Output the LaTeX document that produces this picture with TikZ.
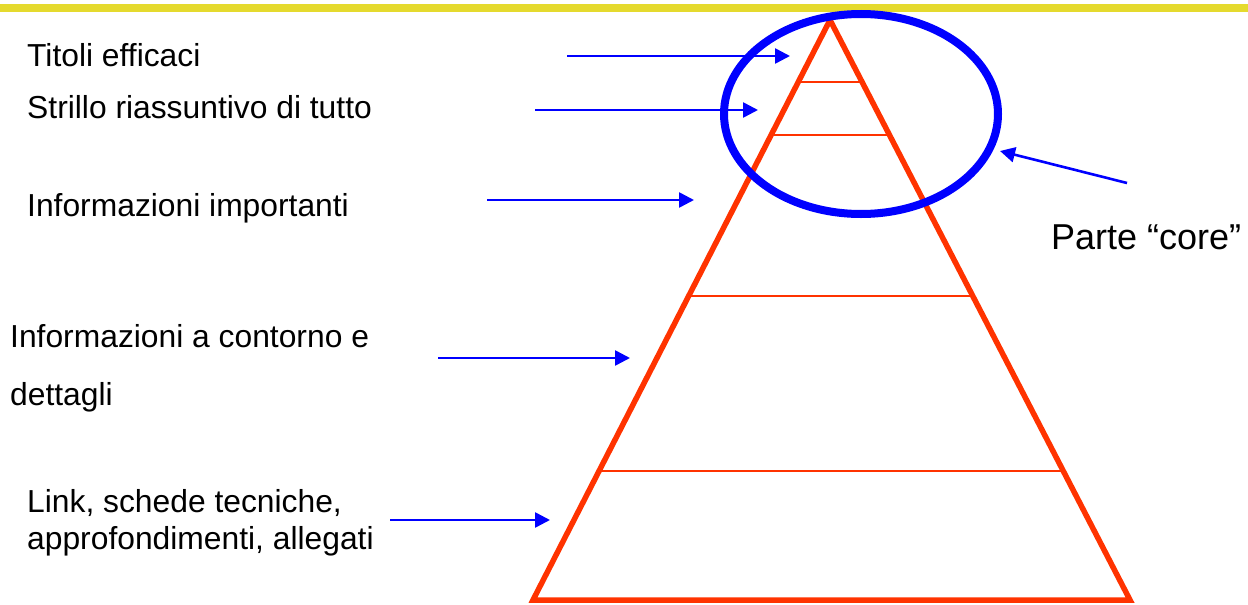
\documentclass[tikz,border=0pt]{standalone}
\usepackage{fontspec}
\setmainfont{Liberation Sans}
\usepackage{tikz}
\usetikzlibrary{arrows.meta,calc}
\definecolor{pyred}{HTML}{FF3300}
\definecolor{baryellow}{HTML}{E5DA2E}
\definecolor{coreblue}{HTML}{0000FF}

\tikzset{
  label/.style={anchor=base west, inner sep=0pt, align=left, text=black},
  pointer/.style={draw=coreblue, line width=2.6pt, -{Triangle[length=15pt,width=15pt]}},
  layer/.style={draw=pyred, line width=2pt},
}

\begin{document}
\begin{tikzpicture}[x=1pt, y=-1pt]
  \useasboundingbox (0,0) rectangle (1248,605);
  \fill[baryellow] (0,4) rectangle (1248,12);

  % the pyramid
  \coordinate (apex) at (830,20);
  \coordinate (bl) at (533,600);
  \coordinate (br) at (1130,600);
  \foreach \t in {0.107, 0.198, 0.476, 0.778}
    \draw[layer] ($(apex)!\t!(bl)$) -- ($(apex)!\t!(br)$);
  \draw[pyred, line width=5.5pt] (apex) -- (bl) -- (br) -- cycle;

  % the core ring
  \draw[coreblue, line width=8pt] (861,114) ellipse [x radius=137, y radius=100];

  % texts on the left (base = last line)
  \node[label, font=\fontsize{31.8}{34}\selectfont] (tit) at (27,66) {Titoli efficaci};
  \node[label, font=\fontsize{31.8}{34}\selectfont] (str) at (27,118) {Strillo riassuntivo di tutto};
  \node[label, font=\fontsize{31.8}{34}\selectfont] (imp) at (27,216) {Informazioni importanti};
  \node[label, font=\fontsize{31.8}{58}\selectfont] (con) at (10,405)
    {Informazioni a contorno e\\dettagli};
  \node[label, font=\fontsize{31.8}{37}\selectfont] (lnk) at (27,549)
    {Link, schede tecniche,\\approfondimenti, allegati};
  \node[label, font=\fontsize{36}{40}\selectfont] (core) at (1051,249) {Parte “core”};

  % arrows to the layers
  \foreach \nm/\xa/\xb/\yy in
      {tit/567/790/56, str/535/758/110, imp/487/694/200, con/438/630/358, lnk/390/550/520} {
    \coordinate (\nm-a) at (\xa,\yy);
    \coordinate (\nm-b) at (\xb,\yy);
    \draw[pointer] (\nm-a) -- (\nm-b);
  }
  \coordinate (core-a) at (1127,183);
  \coordinate (core-b) at (1000,151);
  \draw[pointer] (core-a) -- (core-b);
\end{tikzpicture}
\end{document}
